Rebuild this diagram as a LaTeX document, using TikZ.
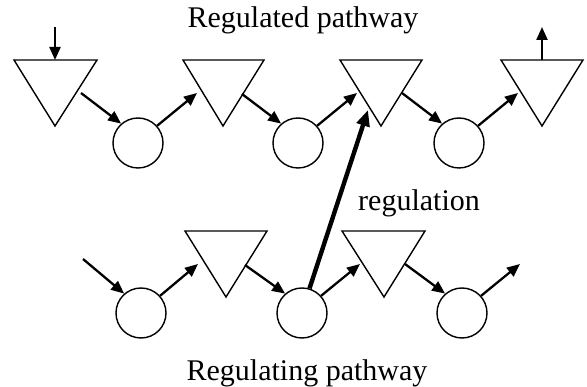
\documentclass[tikz,border=0pt]{standalone}
\usepackage{fontspec}
\setmainfont{Liberation Serif}
\usetikzlibrary{arrows.meta}
\begin{document}
\begin{tikzpicture}[x=1pt,y=-1pt,
  shapeline/.style={line width=1.4pt, line join=miter},
  mol/.style={circle, draw, line width=1.4pt, minimum size=50pt, inner sep=0pt},
  flow/.style={line width=2.3pt, -{Triangle[length=13pt,width=11pt]}},
  regarrow/.style={line width=4.4pt, -{Triangle[length=16pt,width=13pt]}},
  label/.style={font=\fontsize{30}{32}\selectfont, anchor=base, inner sep=0pt}]
\useasboundingbox (0,0) rectangle (587,387);
% triangles (top row)
\draw[shapeline] (14,60) -- (97,60) -- (55,126) -- cycle;
\draw[shapeline] (183,60) -- (264,60) -- (223,126) -- cycle;
\draw[shapeline] (340,60) -- (422,60) -- (381,126) -- cycle;
\draw[shapeline] (501,60) -- (583,60) -- (542,126) -- cycle;
% triangles (bottom row)
\draw[shapeline] (185,231) -- (267,231) -- (226,297) -- cycle;
\draw[shapeline] (342,231) -- (425,231) -- (384,297) -- cycle;
% circles
\node[mol] (u1) at (138,143) {};
\node[mol] (u2) at (298,143) {};
\node[mol] (u3) at (459,143) {};
\node[mol] (d1) at (141,313) {};
\node[mol] (d2) at (302,313) {};
\node[mol] (d3) at (462,313) {};
% named points on the triangles
\coordinate (inA) at (55,27);
\coordinate (t1top) at (55,60);
\coordinate (t1out) at (81,93);
\coordinate (t2in) at (197,93);
\coordinate (t2out) at (242,94);
\coordinate (t3in) at (357,93);
\coordinate (t3out) at (402,93);
\coordinate (t3reg) at (368,110);
\coordinate (t4in) at (518,93);
\coordinate (t4top) at (542,60);
\coordinate (outA) at (542,27);
\coordinate (inB) at (83,259);
\coordinate (b1in) at (198,264);
\coordinate (b1out) at (245,265);
\coordinate (b2in) at (360,264);
\coordinate (b2out) at (405,264);
\coordinate (outB) at (520,264);
% top pathway arrows
\draw[flow] (inA) -- (t1top);
\draw[flow] (t1out) -- (u1.131);
\draw[flow] (u1.42) -- (t2in);
\draw[flow] (t2out) -- (u2.131);
\draw[flow] (u2.42) -- (t3in);
\draw[flow] (t3out) -- (u3.131);
\draw[flow] (u3.42) -- (t4in);
\draw[flow] (t4top) -- (outA);
% bottom pathway arrows
\draw[flow] (inB) -- (d1.131);
\draw[flow] (d1.42) -- (b1in);
\draw[flow] (b1out) -- (d2.131);
\draw[flow] (d2.42) -- (b2in);
\draw[flow] (b2out) -- (d3.131);
\draw[flow] (d3.42) -- (outB);
% regulation
\draw[regarrow] (d2.73) -- (t3reg);
% labels
\node[label] (lt) at (303,28) {Regulated pathway};
\node[label] (lb) at (307,381) {Regulating pathway};
\node[label, anchor=base west] (lr) at (358,211) {regulation};
\end{tikzpicture}
\end{document}
